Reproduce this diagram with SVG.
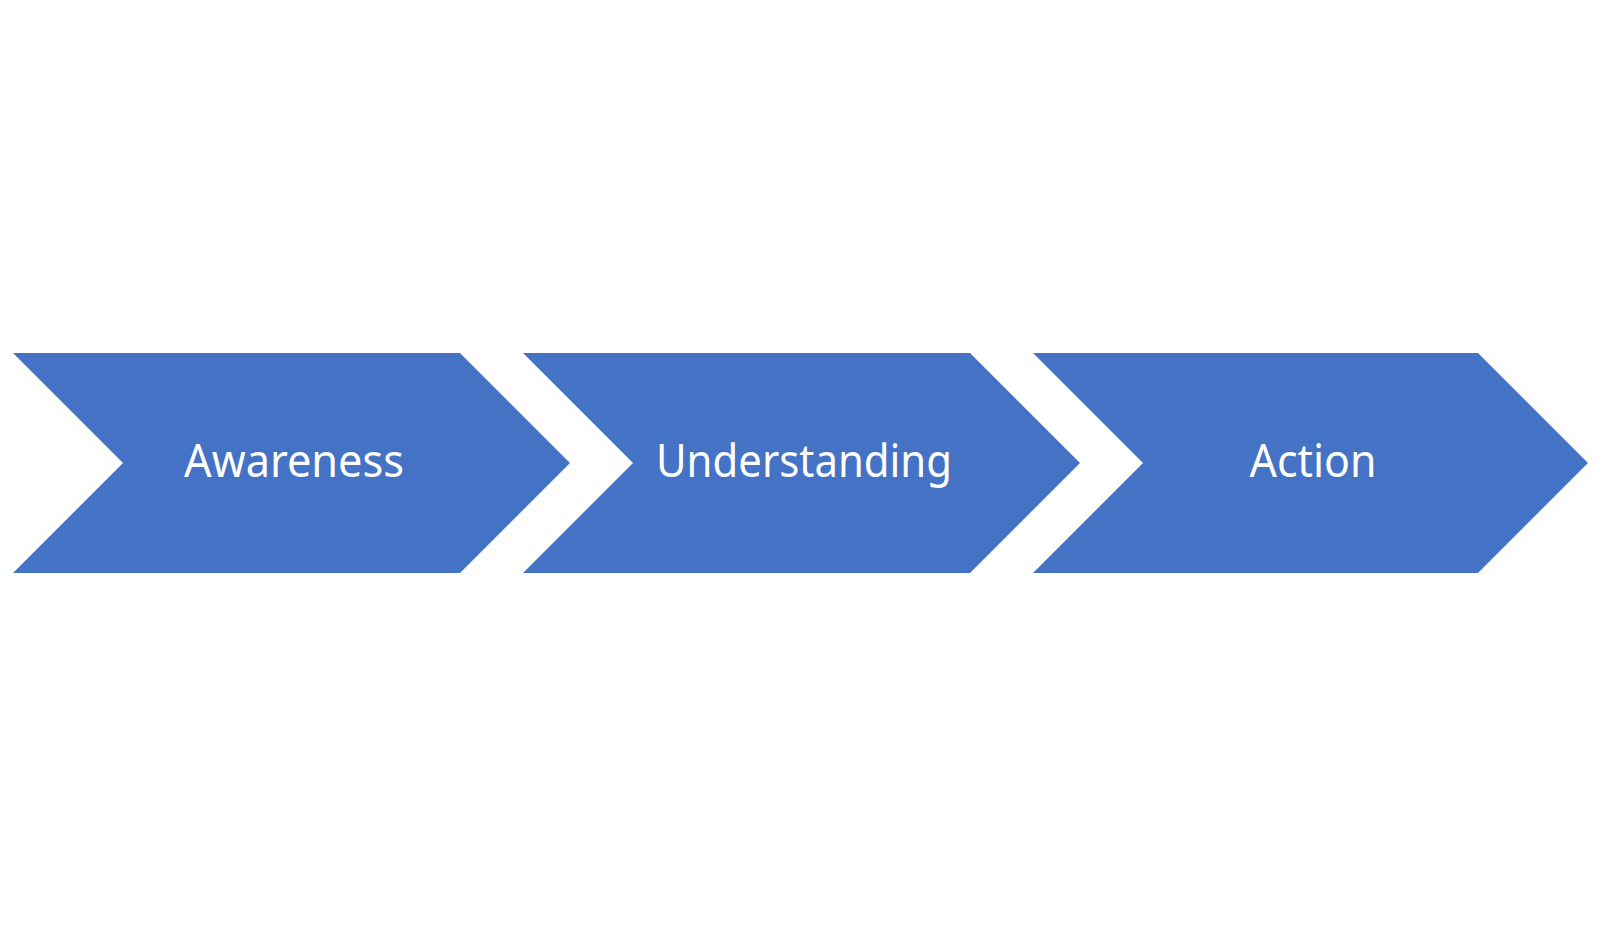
<svg xmlns="http://www.w3.org/2000/svg" width="1597" height="927" viewBox="0 0 1597 927">
<style>
.chev{fill:#4472C4;}
.lbl{fill:#FFFFFF;font-family:"Noto Sans","Open Sans","DejaVu Sans",sans-serif;font-size:45px;text-anchor:middle;}
</style>
<rect width="1597" height="927" fill="#FFFFFF"/>
<g id="connectors"></g>
<g id="awareness">
<polygon class="chev" points="13,353 460,353 570,463 460,573 13,573 123,463"/>
<text class="lbl" x="294" y="477" textLength="220" lengthAdjust="spacingAndGlyphs">Awareness</text>
</g>
<g id="understanding">
<polygon class="chev" points="523,353 970,353 1080,463 970,573 523,573 633,463"/>
<text class="lbl" x="804" y="477" textLength="296" lengthAdjust="spacingAndGlyphs">Understanding</text>
</g>
<g id="action">
<polygon class="chev" points="1033,353 1478,353 1588,463 1478,573 1033,573 1143,463"/>
<text class="lbl" x="1313" y="477" textLength="127" lengthAdjust="spacingAndGlyphs">Action</text>
</g>
</svg>
